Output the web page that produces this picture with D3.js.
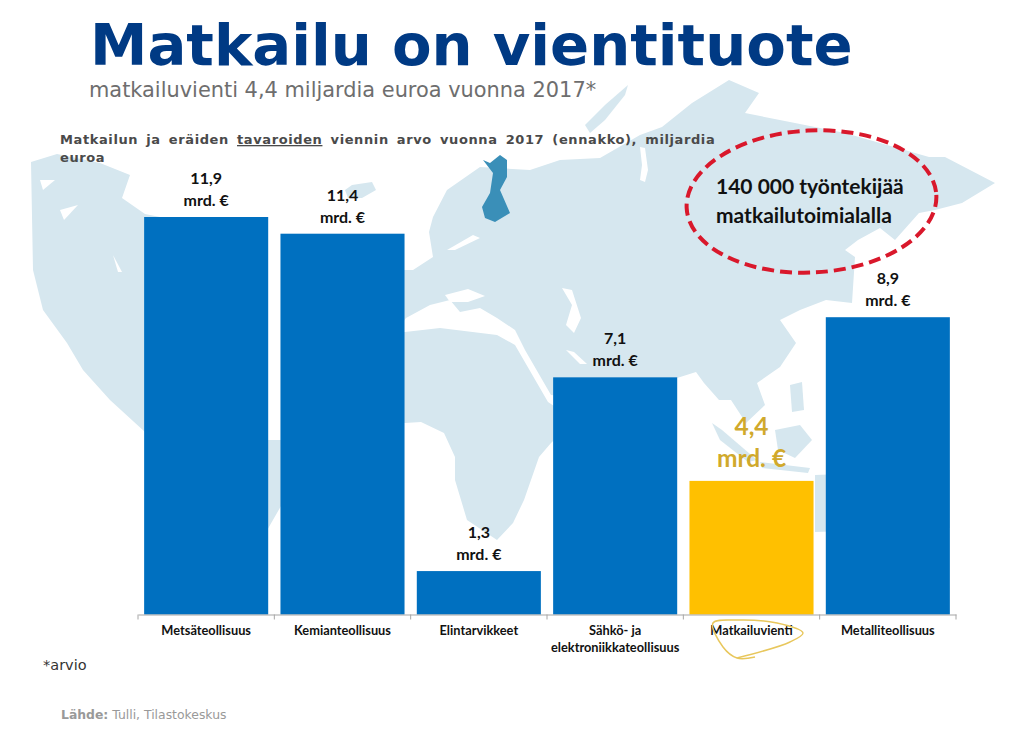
<!DOCTYPE html>
<html><head><meta charset="utf-8">
<script src="https://cdn.jsdelivr.net/npm/d3@7"></script>
<style>html,body{margin:0;padding:0;background:#fff;overflow:hidden}svg{display:block}</style>
</head><body><svg id="c" width="1024" height="736"></svg>
<script>
const categories = ["Metsäteollisuus","Kemianteollisuus","Elintarvikkeet","Sähkö- ja|elektroniikkateollisuus","Matkailuvienti","Metalliteollisuus"];
const barHeights = [11.9,11.4,1.3,7.1,4.0,8.9];
const valueLabels = ["11,9","11,4","1,3","7,1","4,4","8,9"];
const unitLabel = "mrd. €";
const highlight = "Matkailuvienti";

// Decorative world map outlines
const land = [
 [[31,162],[57,154],[100,163],[130,175],[122,198],[145,214],[200,225],[265,300],[265,440],[281,440],[281,506],[250,560],[200,560],[180,480],[145,432],[110,400],[83,370],[67,343],[43,310],[33,270]],
 [[345,190],[352,185],[372,182],[376,190],[362,198],[348,198]],
 [[390,340],[400,270],[413,270],[433,257],[429,232],[433,217],[447,190],[480,167],[530,170],[560,160],[600,158],[640,135],[662,127],[692,103],[729,80],[759,93],[745,113],[795,123],[845,133],[929,157],[945,157],[995,183],[962,203],[935,210],[919,213],[895,240],[880,228],[858,240],[845,250],[855,257],[852,303],[826,300],[800,310],[780,320],[796,343],[780,367],[757,383],[765,405],[746,423],[731,400],[719,400],[704,383],[696,372],[677,378],[600,400],[551,395],[525,350],[515,330],[497,318],[480,308],[460,312],[450,300],[430,305],[406,318]],
 [[390,332],[405,332],[440,328],[497,335],[515,345],[548,402],[575,420],[551,443],[539,457],[524,500],[513,523],[497,540],[467,520],[455,480],[455,457],[444,433],[421,422],[405,423],[390,420]],
 [[815,475],[950,470],[950,528],[815,532]],
 [[585,125],[605,105],[628,85],[625,95],[605,120],[590,133]],
 [[712,423],[722,430],[757,460],[748,462],[720,440]],
 [[775,430],[800,425],[812,440],[795,458],[778,450]],
 [[790,385],[802,382],[804,410],[792,412]],
 [[760,462],[810,468],[808,473],[762,468]]
];
const seas = [
 [[473,235],[480,238],[455,250],[447,250]],
 [[445,295],[468,289],[485,296],[468,302],[450,302]],
 [[562,288],[572,290],[581,318],[574,333],[566,325],[572,305]],
 [[566,350],[574,352],[587,364],[580,364]],
 [[40,180],[55,180],[43,190]],[[60,210],[78,205],[64,220]],[[113,255],[122,272],[118,272]],
 [[640,147],[645,148],[648,170],[645,182],[640,180],[642,165]]
];
const finland = [[483,160],[490,163],[500,155],[507,160],[507,177],[500,190],[510,213],[495,222],[485,218],[482,207],[490,193],[493,173]];
const scribble = [[755,657],[737,658],[723,647],[713,623],[737,620],[777,623],[803,633],[790,642],[737,658]];

const svg = d3.select("#c");
const SANS = "'DejaVu Sans',sans-serif", LATO = "Lato,'Noto Sans',sans-serif";
const poly = d3.line().curve(d3.curveLinearClosed);

const map = svg.append("g");
map.selectAll("path.land").data(land).join("path").attr("class","land").attr("d",poly).attr("fill","#d6e7ef");
map.selectAll("path.sea").data(seas).join("path").attr("class","sea").attr("d",poly).attr("fill","#fff");
map.append("path").attr("d",poly(finland)).attr("fill","#3a8fb8");

const x = d3.scaleBand().domain(categories).range([138,956]).paddingInner(0.09).paddingOuter(0.045);
const y = d3.scaleLinear().domain([0,11.9]).range([614.5,217]);

svg.append("g").selectAll("rect").data(categories).join("rect")
  .attr("x",d=>x(d)).attr("width",x.bandwidth())
  .attr("y",(d,i)=>y(barHeights[i])).attr("height",(d,i)=>y(0)-y(barHeights[i]))
  .attr("fill",d=>d===highlight?"#ffc000":"#0070c0");

// Axis
const axis = svg.append("g").attr("transform",`translate(0,${y(0)})`)
  .call(d3.axisBottom(x).tickSize(0).tickPadding(0).tickFormat(""));
axis.select(".domain").attr("stroke","#a6a6a6").attr("stroke-width",1.2);
axis.selectAll(".tick").remove();
const edges = d3.range(categories.length+1).map(i=>x.range()[0]+i*x.step());
axis.selectAll("line.edge").data(edges).join("line").attr("class","edge")
  .attr("x1",d=>d).attr("x2",d=>d).attr("y1",0).attr("y2",5).attr("stroke","#a6a6a6");

const labels = svg.append("g").attr("font-family",LATO).attr("font-weight",700).attr("font-size",12.8).attr("fill","#111").attr("text-anchor","middle");
categories.forEach(c=>{
  c.split("|").forEach((t,i)=>labels.append("text").attr("x",x(c)+x.bandwidth()/2).attr("y",635+i*17).text(t));
});

// Value labels
categories.forEach((c,i)=>{
  const hi = c===highlight, top = y(barHeights[i]), cx = x(c)+x.bandwidth()/2;
  const g = svg.append("g").attr("font-family",LATO).attr("font-weight",700).attr("text-anchor","middle")
    .attr("fill",hi?"#d0a92c":"#111").attr("font-size",hi?24.5:16);
  g.append("text").attr("x",cx).attr("y",top-(hi?46:33)).text(valueLabels[i]);
  g.append("text").attr("x",cx).attr("y",top-(hi?14:11)).text(unitLabel);
});

// Titles
svg.append("text").attr("x",90).attr("y",65).attr("font-family",SANS).attr("font-weight",700).attr("font-size",57.7).attr("fill","#003a84").text("Matkailu on vientituote");
svg.append("text").attr("x",89).attr("y",97).attr("font-family",SANS).attr("font-size",20.9).attr("fill","#6e6e6e").text("matkailuvienti 4,4 miljardia euroa vuonna 2017*");
const sub = svg.append("g").attr("font-family",SANS).attr("font-weight",700).attr("font-size",13).attr("fill","#4a4a4a").attr("letter-spacing",0.6);
const t1 = sub.append("text").attr("x",60).attr("y",144).attr("word-spacing",3);
t1.append("tspan").text("Matkailun ja eräiden ");
t1.append("tspan").attr("text-decoration","underline").text("tavaroiden");
t1.append("tspan").text(" viennin arvo vuonna 2017 (ennakko), miljardia");
sub.append("text").attr("x",60).attr("y",162).text("euroa");

// Callout
const ell = svg.append("g");
ell.append("ellipse").attr("cx",811.5).attr("cy",201.5).attr("rx",125).attr("ry",71)
  .attr("transform","rotate(-3 811.5 201.5)")
  .attr("fill","none").attr("stroke","#d9182b").attr("stroke-width",4).attr("stroke-dasharray","12 6");
const ct = svg.append("g").attr("font-family",LATO).attr("font-weight",700).attr("font-size",21).attr("fill","#111");
ct.append("text").attr("x",716).attr("y",194).text("140 000 työntekijää");
ct.append("text").attr("x",716).attr("y",223).text("matkailutoimialalla");

svg.append("path").attr("d",d3.line().curve(d3.curveCatmullRom)(scribble)).attr("fill","none").attr("stroke","#e8c75c").attr("stroke-width",1.5);

// Notes
svg.append("text").attr("x",43).attr("y",670).attr("font-family",SANS).attr("font-size",14.5).attr("fill","#333").text("*arvio");
const src = svg.append("text").attr("x",61).attr("y",719).attr("font-family",SANS).attr("font-size",12.4).attr("fill","#999");
src.append("tspan").attr("font-weight",700).text("Lähde:");
src.append("tspan").text(" Tulli, Tilastokeskus");
</script></body></html>
